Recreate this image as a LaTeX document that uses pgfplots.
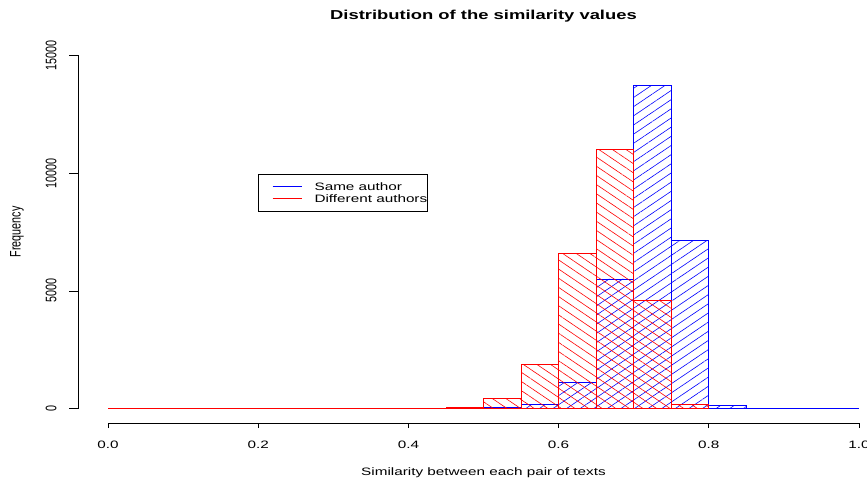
\documentclass[border=0pt]{standalone}
\usepackage{fontspec}
\setmainfont{Liberation Sans}[FakeStretch=1.42]
\newfontfamily\rotfont{Liberation Sans}
\usepackage{graphicx}
\usepackage{pgfplots}
\pgfplotsset{compat=1.18}
\usetikzlibrary{patterns.meta}
\newcommand{\ytl}[1]{\scalebox{1}[1.42]{\rotfont #1}}
\pgfplotstableread{
x y
0.00 0
0.05 0
0.10 0
0.15 0
0.20 0
0.25 0
0.30 0
0.35 0
0.40 0
0.45 0
0.50 45
0.55 182
0.60 1102
0.65 5508
0.70 13728
0.75 7160
0.80 127
0.85 0
0.90 0
0.95 0
1.00 0
}\sameauthor
\pgfplotstableread{
x y
0.00 0
0.05 0
0.10 0
0.15 0
0.20 0
0.25 0
0.30 0
0.35 0
0.40 25
0.45 55
0.50 424
0.55 1877
0.60 6593
0.65 11000
0.70 4601
0.75 182
0.80 0
}\diffauthor
\begin{document}
\begin{tikzpicture}
\begin{axis}[
  at={(0,0)}, anchor=south west,
  scale only axis, width=811bp, height=382bp,
  xmin=-0.04, xmax=1.04, ymin=-600, ymax=15600,
  clip=false,
  axis line style={draw=none},
  xtick pos=lower, ytick pos=left,
  tick align=outside,
  scaled y ticks=false, scaled x ticks=false,
  xtick={0,0.2,0.4,0.6,0.8,1.0},
  xticklabels={0.0,0.2,0.4,0.6,0.8,1.0},
  ytick={0,5000,10000,15000},
  yticklabels={\ytl{0},\ytl{5000},\ytl{10000},\ytl{15000}},
  minor tick num=0,
  xtick style={black, line width=0.8bp, /pgfplots/major tick length=5bp},
  ytick style={black, line width=0.8bp, /pgfplots/major tick length=9bp},
  tick label style={font=\fontsize{10.8}{13}\selectfont},
  xticklabel style={anchor=north, inner sep=0pt, yshift=-13.5bp},
  yticklabel style={rotate=90, anchor=south, inner sep=0pt},
  yticklabel shift=17bp,
  xlabel={Similarity between each pair of texts},
  xlabel style={at={(axis description cs:0.5,-0.1375)}, anchor=base, inner sep=0pt, font=\fontsize{10.8}{13}\selectfont},
  ylabel={\scalebox{1}[1.42]{\rotfont Frequency}},
  ylabel style={at={(axis description cs:-0.0666,0.5)}, anchor=south, inner sep=0pt, font=\fontsize{10.8}{13}\selectfont},
  title={Distribution of the similarity values},
  title style={at={(axis description cs:0.5,1.0406)}, anchor=base, inner sep=0pt, font=\bfseries\fontsize{13}{15}\selectfont},
  legend image code/.code={\path[draw=none,fill=none] (0bp,-1bp) rectangle (56bp,1bp); \draw[#1, line width=0.8bp] (14bp,0bp) -- (43bp,0bp);},
  legend cell align=left,
  legend style={at={(axis cs:0.2,9960)}, anchor=north west, draw=black, line width=0.7bp,
    inner xsep=0pt, inner ysep=6.5bp, row sep=0pt,
    font=\fontsize{10.8}{12}\selectfont,
    nodes={inner sep=0pt, text height=9.5bp, text depth=2.5bp}},
]
\addplot[forget plot, ybar interval, draw=blue, line width=0.9bp,
  pattern={Lines[angle=34,distance=7.6bp,line width=0.6bp]}, pattern color=blue]
  table[x=x,y=y] {\sameauthor};
\addplot[forget plot, ybar interval, draw=red, line width=0.9bp,
  pattern={Lines[angle=146,distance=7.6bp,line width=0.6bp]}, pattern color=red]
  table[x=x,y=y] {\diffauthor};
\addlegendimage{blue}
\addlegendentry{Same author\hspace{8bp}}
\addlegendimage{red}
\addlegendentry{Different authors\hspace{8bp}}
\draw[black, line width=0.8bp] (axis cs:0,-600) -- (axis cs:1,-600);
\draw[black, line width=0.8bp] (axis cs:-0.04,0) -- (axis cs:-0.04,15000);
\end{axis}
\pgfresetboundingbox
\useasboundingbox (-78bp,-56bp) rectangle (789bp,423bp);
\end{tikzpicture}
\end{document}
